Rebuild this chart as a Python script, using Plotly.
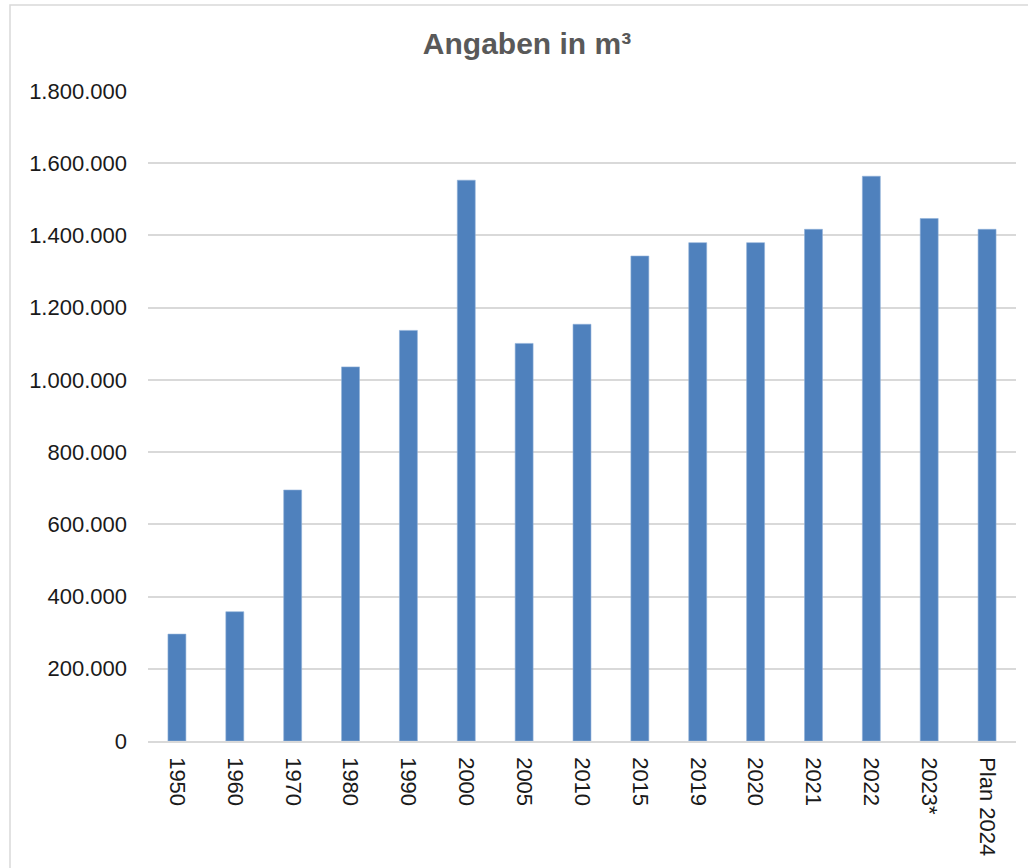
import plotly.graph_objects as go

categories = ["1950", "1960", "1970", "1980", "1990", "2000", "2005", "2010",
              "2015", "2019", "2020", "2021", "2022", "2023*", "Plan 2024"]
values = [296000, 358000, 695000, 1036000, 1137000, 1553000, 1101000, 1154000,
          1343000, 1380000, 1380000, 1417000, 1564000, 1447000, 1417000]
tick_vals = [0, 200000, 400000, 600000, 800000, 1000000, 1200000, 1400000, 1600000, 1800000]
tick_text = ["0", "200.000", "400.000", "600.000", "800.000", "1.000.000",
             "1.200.000", "1.400.000", "1.600.000", "1.800.000"]
title_text = "Angaben in m³"

fig = go.Figure(go.Bar(
    x=categories, y=values,
    marker=dict(color="#4F81BD", line=dict(color="#8fb0d8", width=0.6)),
    hoverinfo="x+y",
))

font_family = "Liberation Sans, Arial, sans-serif"

fig.update_layout(
    width=1028, height=868,
    paper_bgcolor="white", plot_bgcolor="white",
    margin=dict(l=148, r=12, t=91, b=127),
    bargap=0.69,
    showlegend=False,
    title=dict(text="<b>" + title_text + "</b>", x=527 / 1028, xanchor="center",
               y=1 - 43 / 868, yanchor="middle",
               font=dict(family=font_family, size=30, color="#595959")),
    font=dict(family=font_family, size=22, color="#1a1a1a"),
    xaxis=dict(
        type="category", tickangle=90, showgrid=False,
        showline=True, linecolor="#d9d9d9", linewidth=1.5,
        ticks="", ticklabelstandoff=10,
        tickfont=dict(family=font_family, size=22, color="#1a1a1a"),
    ),
    yaxis=dict(
        range=[0, 1800000], tickvals=tick_vals, ticktext=tick_text,
        showgrid=True, gridcolor="#d9d9d9", gridwidth=1.5,
        zeroline=False, showline=False, ticks="",
        ticklabelstandoff=20,
        tickfont=dict(family=font_family, size=22, color="#1a1a1a"),
    ),
    shapes=[dict(type="rect", xref="paper", yref="paper",
                 x0=(10 - 148) / 868, x1=1.03, y0=-0.25, y1=(741 - 5) / 650,
                 line=dict(color="#d9d9d9", width=1.5), fillcolor="rgba(0,0,0,0)",
                 layer="below")],
)

fig.write_html("out.html",
               config={"displayModeBar": False},
               post_script="document.body.style.margin='0';document.body.style.overflow='hidden';")
